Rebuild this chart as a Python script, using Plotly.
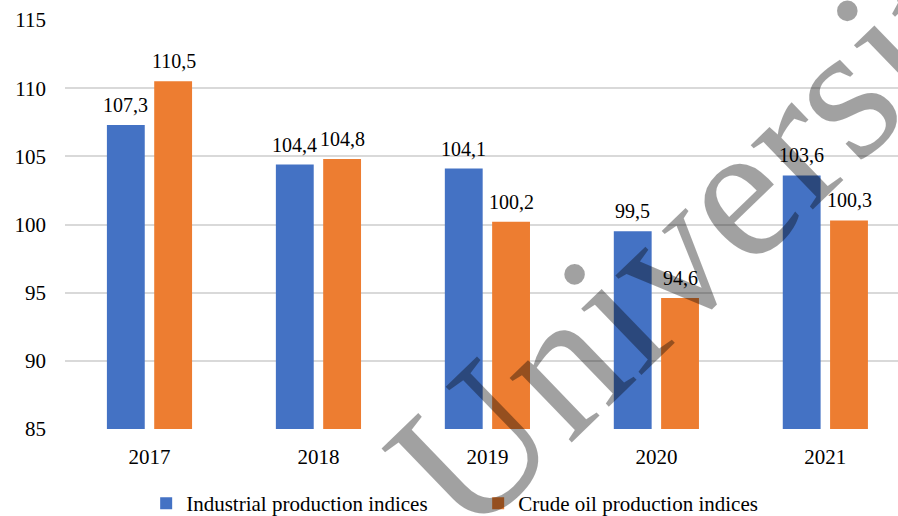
import plotly.graph_objects as go

years = ["2017", "2018", "2019", "2020", "2021"]
industrial = [107.3, 104.4, 104.1, 99.5, 103.6]
crude_oil = [110.5, 104.8, 100.2, 94.6, 100.3]
series_names = ["Industrial production indices", "Crude oil production indices"]
colors = ["#4472C4", "#ED7D31"]

FONT = "Liberation Serif"

fig = go.Figure()
for name, vals, col in zip(series_names, [industrial, crude_oil], colors):
    fig.add_trace(go.Bar(
        x=years, y=vals, name=name, marker_color=col, marker_line_width=0,
    ))

# data labels above each bar (left bar / right bar of each group)
for vals, xs in zip([industrial, crude_oil], [-23.5, 24.5]):
    for i, v in enumerate(vals):
        fig.add_annotation(
            x=i, y=v, xref="x", yref="y", text=f"{v:.1f}".replace(".", ","),
            showarrow=False, xanchor="center", yanchor="bottom",
            xshift=xs, yshift=7,
            font=dict(family=FONT, size=20, color="#000000"),
        )

fig.update_layout(
    width=898, height=516,
    margin=dict(l=65, r=0, t=20, b=87),
    paper_bgcolor="white", plot_bgcolor="white",
    barmode="group", bargap=0.44, bargroupgap=0.2,
    font=dict(family=FONT, size=20, color="#000000"),
    showlegend=True,
    legend=dict(orientation="h", x=0.496, xanchor="center",
                yref="container", y=0.024, yanchor="middle",
                font=dict(family=FONT, size=21), itemwidth=30, traceorder="normal",
                entrywidth=287, entrywidthmode="pixels"),
    xaxis=dict(type="category", range=[-0.5, 4.43], showgrid=False, showline=False, ticks="",
               tickfont=dict(family=FONT, size=21), ticklabelstandoff=13, fixedrange=True),
    yaxis=dict(range=[85, 115], dtick=5, showgrid=True, gridcolor="#D9D9D9", gridwidth=2,
               zeroline=False, showline=False, ticks="", tickfont=dict(family=FONT, size=21),
               ticklabelstandoff=18),
)

fig.add_annotation(
    text="University", xref="paper", yref="paper", x=0.783, y=0.535,
    xanchor="center", yanchor="middle", textangle=-44, showarrow=False,
    font=dict(family=FONT, size=195, color="rgba(0,0,0,0.37)"),
)

fig.write_html("out.html")
